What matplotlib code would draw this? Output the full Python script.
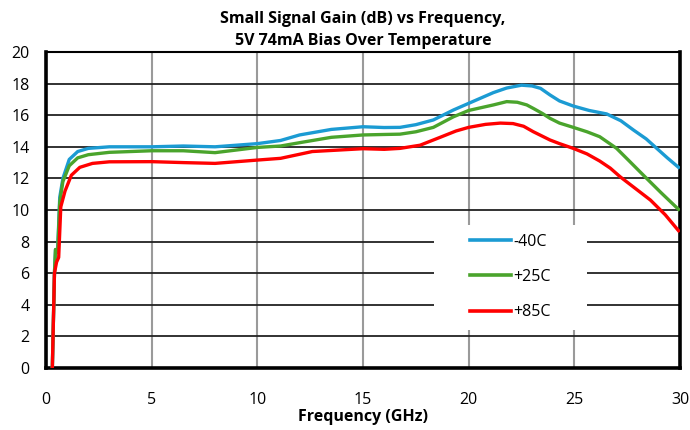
import matplotlib
matplotlib.use("Agg")
import matplotlib.pyplot as plt
from matplotlib.patches import Rectangle

# Frequency (GHz) / gain (dB)
freq_m40 = [0.3, 0.4, 0.45, 0.55, 0.65, 0.8, 1.1, 1.5, 2.0, 3.0, 5.0, 6.5, 8.0, 10.0,
            11.1, 12.0, 13.5, 15.0, 16.0, 16.75, 17.5, 18.33, 19.28, 20.0, 21.17, 21.8,
            22.5, 23.0, 23.4, 23.85, 24.3, 24.95, 25.7, 26.53, 27.2, 27.8, 28.4, 28.9,
            29.4, 29.93]
gain_m40 = [0.0, 6.0, 7.5, 7.4, 10.8, 12.0, 13.2, 13.7, 13.9, 14.0, 14.0, 14.05, 14.0, 14.2,
            14.4, 14.75, 15.1, 15.27, 15.22, 15.23, 15.4, 15.7, 16.33, 16.75, 17.43, 17.72,
            17.9, 17.85, 17.7, 17.28, 16.9, 16.58, 16.3, 16.08, 15.65, 15.06, 14.5, 13.9,
            13.3, 12.7]

freq_p25 = [0.3, 0.4, 0.45, 0.55, 0.65, 0.8, 1.1, 1.5, 2.0, 3.0, 5.0, 6.5, 8.0, 10.0,
            11.1, 12.0, 13.5, 15.0, 16.0, 16.75, 17.5, 18.33, 19.28, 20.0, 21.17, 21.8,
            22.3, 22.75, 23.1, 23.5, 23.85, 24.3, 24.95, 25.6, 26.2, 27.0, 27.6, 28.27,
            29.1, 29.93]
gain_p25 = [0.0, 6.0, 7.5, 7.3, 10.5, 11.8, 12.8, 13.3, 13.5, 13.65, 13.75, 13.75, 13.63, 13.96,
            14.05, 14.26, 14.6, 14.75, 14.78, 14.8, 14.95, 15.23, 15.9, 16.3, 16.65, 16.86,
            16.82, 16.65, 16.4, 16.1, 15.8, 15.5, 15.23, 14.95, 14.64, 13.9, 13.1, 12.2,
            11.1, 10.04]

freq_p85 = [0.3, 0.35, 0.4, 0.5, 0.6, 0.7, 0.9, 1.2, 1.6, 2.2, 3.0, 5.0, 6.5, 8.0, 10.0,
            11.1, 12.6, 15.0, 16.0, 16.75, 17.7, 18.65, 19.4, 20.0, 20.8, 21.5, 22.1,
            22.6, 23.05, 23.85, 24.3, 24.95, 25.6, 26.2, 26.7, 27.17, 27.9, 28.6, 29.3,
            29.93]
gain_p85 = [0.0, 3.0, 6.0, 6.7, 7.0, 10.2, 11.2, 12.2, 12.7, 12.95, 13.05, 13.06, 13.0, 12.95, 13.16,
            13.27, 13.7, 13.88, 13.84, 13.9, 14.1, 14.6, 15.0, 15.23, 15.42, 15.5, 15.47,
            15.3, 14.96, 14.43, 14.2, 13.9, 13.55, 13.1, 12.65, 12.1, 11.35, 10.63, 9.7,
            8.69]

labels = ["-40C", "+25C", "+85C"]
colors = ["#1b9bd3", "#4aa42c", "#ff0000"]

plt.rcParams["font.family"] = ["Open Sans", "DejaVu Sans"]

fig = plt.figure(figsize=(6.9, 4.3), dpi=100)
ax = fig.add_axes([46 / 690, (430 - 368) / 430, 634 / 690, 316 / 430])

for f, g, lab, c in zip([freq_m40, freq_p25, freq_p85], [gain_m40, gain_p25, gain_p85],
                        labels, colors):
    ax.plot(f, g, color=c, lw=2.4, label=lab, zorder=3, solid_joinstyle="round")

ax.set_xlim(0, 30)
ax.set_ylim(0, 20)
ax.set_xticks(range(0, 31, 5))
ax.set_yticks(range(0, 21, 2))
ax.xaxis.grid(True, color="#9a9a9a", lw=1.5)
ax.yaxis.grid(True, color="#222222", lw=1.3)
ax.set_axisbelow(True)
ax.tick_params(length=0, labelsize=11.5)
ax.tick_params(axis="y", pad=12)
ax.tick_params(axis="x", pad=17)
for s in ["left", "bottom", "right"]:
    ax.spines[s].set_linewidth(2.6)
ax.spines["top"].set_linewidth(1.5)

ax.set_xlabel("Frequency (GHz)", fontsize=11.5, fontweight="bold", labelpad=1)
ax.set_title("Small Signal Gain (dB) vs Frequency,\n5V 74mA Bias Over Temperature",
             fontsize=11.5, fontweight="bold", pad=5, linespacing=1.5)

# white legend area covering the grid
ax.add_patch(Rectangle((0.612, 0.12), 0.241, 0.3325, transform=ax.transAxes,
                       facecolor="white", edgecolor="none", zorder=4))
leg = ax.legend(loc="center left", bbox_to_anchor=(0.669, 0.288), frameon=False,
                fontsize=11.5, handlelength=2.55, handletextpad=0.15, labelspacing=1.2,
                borderpad=0, borderaxespad=0)
leg.set_zorder(5)
for line in leg.get_lines():
    line.set_linewidth(2.6)

fig.savefig("out.png", dpi=100)
